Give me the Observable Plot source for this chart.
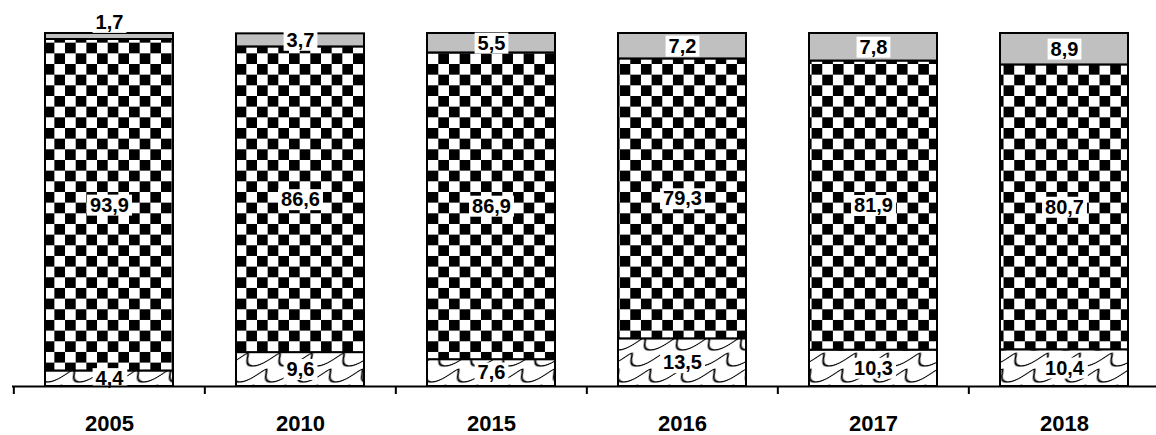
<!DOCTYPE html>
<html><head><meta charset="utf-8">
<script src="https://cdn.jsdelivr.net/npm/d3@7"></script>
<script src="https://cdn.jsdelivr.net/npm/@observablehq/plot@0.6"></script>
<style>body{margin:0;background:#fff}</style>
</head><body><div id="chart"></div>
<script>
const years = ["2005", "2010", "2015", "2016", "2017", "2018"];
const seriesNames = ["Серия 1", "Серия 2", "Серия 3"];
const bottomValues = [4.4, 9.6, 7.6, 13.5, 10.3, 10.4];
const middleValues = [93.9, 86.6, 86.9, 79.3, 81.9, 80.7];
const topValues = [1.7, 3.7, 5.5, 7.2, 7.8, 8.9];
const seriesValues = [bottomValues, middleValues, topValues];

const data = [];
const labels = [];
years.forEach((year, i) => {
  let base = 0;
  seriesValues.forEach((vals, s) => {
    const v = vals[i];
    data.push({year, series: seriesNames[s], value: v});
    labels.push({year, series: seriesNames[s], value: v, mid: base + v / 2});
    base += v;
  });
});
const fmt = v => v.toFixed(1).replace(".", ",");

const W = 1156, H = 435;
const x0 = 12, x1 = 1160;
const step = (x1 - x0) / years.length;
const font = "'Liberation Sans', Arial, sans-serif";
const labelOpts = {x: "year", y: "mid", text: d => fmt(d.value), fontSize: 20, fontWeight: "bold", fill: "black", fontFamily: font};

const chart = Plot.plot({
  width: W, height: H,
  marginTop: 33, marginBottom: 49, marginLeft: 12, marginRight: 0,
  style: {fontFamily: font, background: "white", color: "black"},
  x: {type: "band", domain: years, range: [x0, x1], paddingInner: 0.331, paddingOuter: 0.1655, label: null},
  y: {domain: [0, 100], axis: null},
  color: {domain: seriesNames, range: ["url(#shingle)", "url(#checker)", "#c0c0c0"]},
  marks: [
    Plot.barY(data, {x: "year", y: "value", fill: "series", stroke: "black", strokeWidth: 2}),
    Plot.text(labels.filter(d => d.value >= 2), labelOpts),
    Plot.text(labels.filter(d => d.value < 2), {...labelOpts, dy: -14}),
    Plot.ruleY([0], {strokeWidth: 2}),
    Plot.axisX({tickSize: 8, tickFormat: () => "", label: null, dx: -step / 2, strokeWidth: 2}),
    Plot.axisX({tickSize: 0, tickPadding: 29, label: null, fontSize: 22, fontWeight: "bold", fontFamily: font})
  ]
});

document.getElementById("chart").append(chart);
const svg = d3.select(chart);
svg.insert("defs", ":first-child").html(`
  <pattern id="checker" patternUnits="userSpaceOnUse" width="21.33" height="21.33" patternTransform="translate(43.7,0)">
    <rect width="21.33" height="21.33" fill="white"/>
    <rect width="10.67" height="10.67" fill="black"/>
    <rect x="10.67" y="10.67" width="10.67" height="10.67" fill="black"/>
  </pattern>
  <pattern id="shingle" patternUnits="userSpaceOnUse" width="32" height="16" patternTransform="skewX(-40)">
    <rect width="32" height="16" fill="white"/>
    <path d="M0,1 C4,4 6,14 16,14 C26,14 28,4 32,1" fill="none" stroke="black" stroke-width="1.5"/>
  </pattern>`);
svg.selectAll('g[aria-label="text"] text').each(function () {
  const b = this.getBBox();
  const r = document.createElementNS("http://www.w3.org/2000/svg", "rect");
  r.setAttribute("x", b.x - 3);
  r.setAttribute("y", b.y + 1);
  r.setAttribute("width", b.width + 6);
  r.setAttribute("height", b.height - 1);
  r.setAttribute("fill", "white");
  const t = this.getAttribute("transform");
  if (t) r.setAttribute("transform", t);
  this.parentNode.insertBefore(r, this);
});
</script>
</body></html>
